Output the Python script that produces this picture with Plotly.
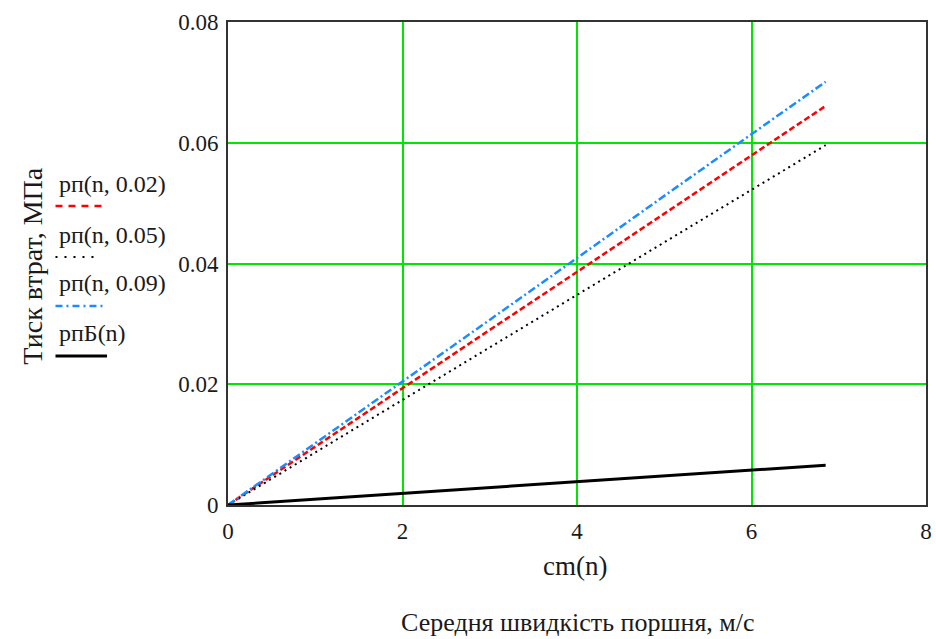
import plotly.graph_objects as go

# Data
cm = [0, 1, 2, 3, 4, 5, 6, 6.85]
rp_002 = [0, 0.0097, 0.0193, 0.0290, 0.0386, 0.0483, 0.0579, 0.0661]
rp_005 = [0, 0.0087, 0.0174, 0.0261, 0.0348, 0.0435, 0.0522, 0.0596]
rp_009 = [0, 0.0102, 0.0205, 0.0307, 0.0409, 0.0512, 0.0614, 0.0701]
rpB = [0, 0.00097, 0.00194, 0.0029, 0.0039, 0.0048, 0.0058, 0.0066]

legend_labels = ["рп(n, 0.02)", "рп(n, 0.05)", "рп(n, 0.09)", "рпБ(n)"]
x_ticks = [0, 2, 4, 6, 8]
y_ticks = [0, 0.02, 0.04, 0.06, 0.08]
y_tick_text = ["0", "0.02", "0.04", "0.06", "0.08"]

W, H = 936, 639
L, R, T, B = 228, 4, 22, 134
PW, PH = W - L - R, H - T - B
FONT = "'Times New Roman', 'Liberation Serif', 'DejaVu Serif', serif"
GRID = "#00e600"
TXT = "#1a1a1a"

def px(xp):
    return (xp - L) / PW

def py(yp):
    return 1 - (yp - T) / PH

fig = go.Figure()
series = [
    (rp_002, dict(color="#ff0000", width=2.5, dash="6px,3px")),
    (rp_005, dict(color="#000000", width=2, dash="2px,4px")),
    (rp_009, dict(color="#1a8cff", width=2.5, dash="8px,3px,2px,3px")),
    (rpB, dict(color="#000000", width=3, dash="solid")),
]
for (vals, ln), name in zip(series, legend_labels):
    fig.add_trace(go.Scatter(x=cm, y=vals, mode="lines", line=ln, name=name,
                             showlegend=False))

# Custom Mathcad-style legend on the left
legend_text_y = [184, 235, 283, 333]
legend_line_y = [206, 257, 306, 356]
legend_line_x1 = [101, 97, 105, 106]
legend_dash = ["7px,6px", "2px,7px", "7px,4px,2px,4px", "solid"]
annotations = []
shapes = []
for i, ((vals, ln), name) in enumerate(zip(series, legend_labels)):
    annotations.append(dict(x=px(56), y=py(legend_text_y[i]), xref="paper", yref="paper",
                            text=name, showarrow=False, xanchor="left", yanchor="middle",
                            font=dict(family=FONT, size=24, color=TXT)))
    shapes.append(dict(type="line", xref="paper", yref="paper",
                       x0=px(54), x1=px(legend_line_x1[i]),
                       y0=py(legend_line_y[i]), y1=py(legend_line_y[i]),
                       line=dict(color=ln["color"], width=ln["width"], dash=legend_dash[i])))

annotations.append(dict(x=px(30), y=py(266), xref="paper", yref="paper",
                        text="Тиск втрат, МПа", textangle=-90, showarrow=False,
                        xanchor="center", yanchor="middle",
                        font=dict(family=FONT, size=28, color=TXT)))
annotations.append(dict(x=px(578), y=py(566), xref="paper", yref="paper",
                        text="cm(n)", showarrow=False, xanchor="center", yanchor="middle",
                        font=dict(family=FONT, size=27, color=TXT)))
annotations.append(dict(x=px(581), y=py(622), xref="paper", yref="paper",
                        text="Середня швидкість поршня, м/с", showarrow=False,
                        xanchor="center", yanchor="middle",
                        font=dict(family=FONT, size=26, color=TXT)))

fig.update_layout(
    width=W, height=H,
    margin=dict(l=L, r=R, t=T, b=B),
    paper_bgcolor="white", plot_bgcolor="white",
    annotations=annotations, shapes=shapes,
    font=dict(family=FONT, size=23, color=TXT),
)
fig.update_xaxes(range=[0, 8], tickvals=x_ticks, showgrid=True, gridcolor=GRID, gridwidth=1.5,
                 zeroline=False, showline=True, linecolor="#333333", linewidth=2, mirror=True,
                 ticks="", ticklabelstandoff=4, tickfont=dict(family=FONT, size=23, color=TXT))
fig.update_yaxes(range=[0, 0.08], tickvals=y_ticks, ticktext=y_tick_text, showgrid=True,
                 gridcolor=GRID, gridwidth=1.5,
                 zeroline=False, showline=True, linecolor="#333333", linewidth=2, mirror=True,
                 ticks="", ticklabelstandoff=3, tickfont=dict(family=FONT, size=23, color=TXT))

fig.write_html("out.html")
